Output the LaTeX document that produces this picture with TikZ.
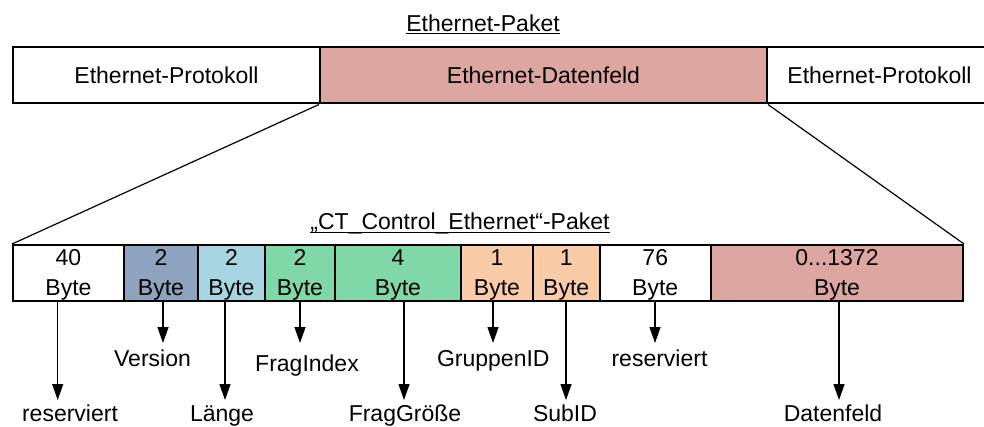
\documentclass[tikz,border=0pt]{standalone}
\usepackage{fontspec}
\setmainfont{Liberation Sans}
\usetikzlibrary{arrows.meta}
\definecolor{datenrot}{RGB}{222,166,161}
\definecolor{versionblau}{RGB}{141,163,190}
\definecolor{laengeblau}{RGB}{167,213,226}
\definecolor{fraggruen}{RGB}{128,216,168}
\definecolor{gruppenorange}{RGB}{249,203,167}
\newcommand\datenbereich{0...1372}
\begin{document}
\begin{tikzpicture}[x=1pt,y=-1pt,
  txt/.style={font=\fontsize{23}{29}\selectfont, inner sep=0pt, anchor=base},
  feld/.style={draw=black, line width=2pt, inner sep=0pt},
  kopf/.style={feld, minimum height=56.2pt, font=\fontsize{23}{29}\selectfont,
               text height=16pt, text depth=0pt},
  zeiger/.style={line width=1.3pt, -{Triangle[length=16pt,width=11pt]}},
  keil/.style={line width=1.2pt},
  strich/.style={line width=1.1pt}]
\useasboundingbox (0,0) rectangle (984,427);

% Ethernet frame
\node[txt] (titel1) at (483,31.7) {Ethernet-Paket};
\draw[strich] ([yshift=-1.8pt]titel1.base west) -- ([yshift=-1.8pt]titel1.base east);

\node[kopf, fill=white, minimum width=307pt]    (p1) at (166.5,75.4) {Ethernet-Protokoll};
\node[kopf, fill=datenrot, minimum width=447pt] (p2) at (543.5,75.4) {Ethernet-Datenfeld};
\node[kopf, fill=white, minimum width=225pt]    (p3) at (879.5,75.4) {Ethernet-Protokoll};

% CT_Control_Ethernet packet
\node[txt] (titel2) at (460,229.3) {„CT\_Control\_Ethernet“-Paket};
\draw[strich] ([yshift=-3.3pt]titel2.base west) -- ([yshift=-3.3pt]titel2.base east);

\foreach \n/\l/\r/\z/\f in {
  c1/13/124/40/white,
  c2/124/198/2/versionblau,
  c3/198/265/2/laengeblau,
  c4/265/335/2/fraggruen,
  c5/335/461/4/fraggruen,
  c6/461/533/1/gruppenorange,
  c7/533/599.5/1/gruppenorange,
  c8/599.5/711/76/white,
  c9/711/963/\datenbereich/datenrot}
{
  \node[feld, fill=\f, minimum width={\r-\l}, minimum height=56pt] (\n) at ({(\l+\r)/2},273) {};
  \node[txt] (\n z) at (\n.center |- 0,266) {\z};
  \node[txt] (\n b) at (\n.center |- 0,295) {Byte};
}

% zoom lines from the data field to the inner packet
\draw[keil] (p2.south west) -- (c1.north west);
\draw[keil] (p2.south east) -- (c9.north east);

% field labels
\node[txt] (l1) at (70,421.7)    {reserviert};
\node[txt] (l2) at (152.5,366)   {Version};
\node[txt] (l3) at (222,421.7)   {Länge};
\node[txt] (l4) at (307,371)     {FragIndex};
\node[txt] (l5) at (405,421.7)   {FragGröße};
\node[txt] (l6) at (493.3,366)   {GruppenID};
\node[txt] (l7) at (565,421.7)   {SubID};
\node[txt] (l8) at (659.5,366)   {reserviert};
\node[txt] (l9) at (833,421.7)   {Datenfeld};

% arrow tips
\coordinate (a1) at (57.7,400);
\coordinate (a2) at (163,343);
\coordinate (a3) at (225,400);
\coordinate (a4) at (300,343);
\coordinate (a5) at (404,400);
\coordinate (a6) at (493,343);
\coordinate (a7) at (566,400);
\coordinate (a8) at (655,343);
\coordinate (a9) at (839,400);

\foreach \i in {1,...,9}
  \draw[zeiger] (a\i |- c\i.south) -- (a\i);
\end{tikzpicture}
\end{document}
